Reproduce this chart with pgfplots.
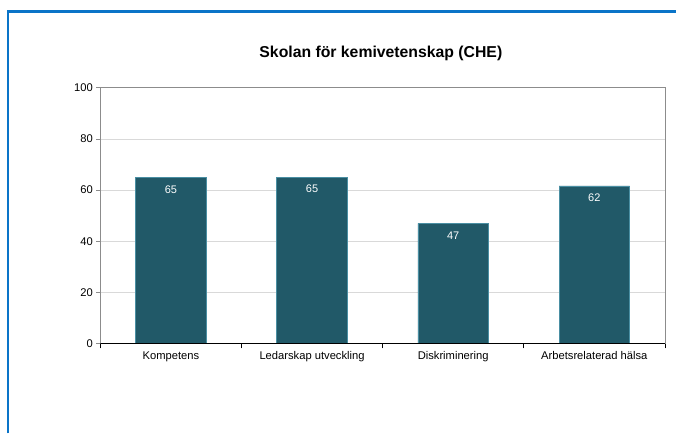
\documentclass[border=0pt]{standalone}
\usepackage{fontspec}
\setmainfont{Liberation Sans}
\usepackage{pgfplots}
\pgfplotsset{compat=1.18}
\definecolor{barc}{HTML}{215968}
\definecolor{baredge}{HTML}{4A8FA3}
\definecolor{frameblue}{HTML}{0A74C8}
\definecolor{gridc}{HTML}{D9D9D9}
\definecolor{axisgray}{HTML}{8C8C8C}
\begin{document}
\begin{tikzpicture}
\begin{axis}[
  name=ax,
  scale only axis, width=565.5pt, height=256pt,
  ymin=0, ymax=100, xmin=-0.5, xmax=3.5,
  ybar, bar width=0.5,
  /pgf/number format/assume math mode=true,
  ytick={0,20,...,100},
  xtick={0,1,2,3},
  xticklabels={Kompetens,Ledarskap utveckling,Diskriminering,Arbetsrelaterad hälsa},
  minor xtick={-0.5,0.5,1.5,2.5,3.5},
  xtick pos=bottom, ytick pos=left,
  tick align=outside,
  major tick length=4pt, minor tick length=5pt,
  major x tick style={draw=none},
  minor x tick style={black, line width=0.8pt},
  y tick style={axisgray, line width=0.8pt},
  axis line style={axisgray, line width=0.8pt},
  ymajorgrids, grid style={gridc, line width=0.9pt},
  tick label style={font=\fontsize{11.2}{13}\selectfont},
  x tick label style={yshift=-0.5pt},
  nodes near coords={\pgfmathprintnumber[fixed,precision=0]{\pgfplotspointmeta}},
  every node near coord/.append style={anchor=center, yshift=-12pt, text=white, font=\fontsize{11}{13}\selectfont},
]
\addplot[fill=barc, draw=baredge, line width=0.7pt] coordinates {(0,64.8) (1,65.1) (2,47.0) (3,61.6)};
\draw[black, line width=1pt] (rel axis cs:0,0) -- (rel axis cs:1,0);
\end{axis}
\draw[frameblue, line width=2.2pt] (-92.5pt,-90pt) -- (-92.5pt,332.5pt) -- (576.5pt,332.5pt);
\node[font=\bfseries\fontsize{15.8}{18}\selectfont] at (281pt,290pt) {Skolan för kemivetenskap (CHE)};
\path[use as bounding box] (-100.5pt,-90pt) rectangle (576.5pt,344pt);
\end{tikzpicture}
\end{document}
